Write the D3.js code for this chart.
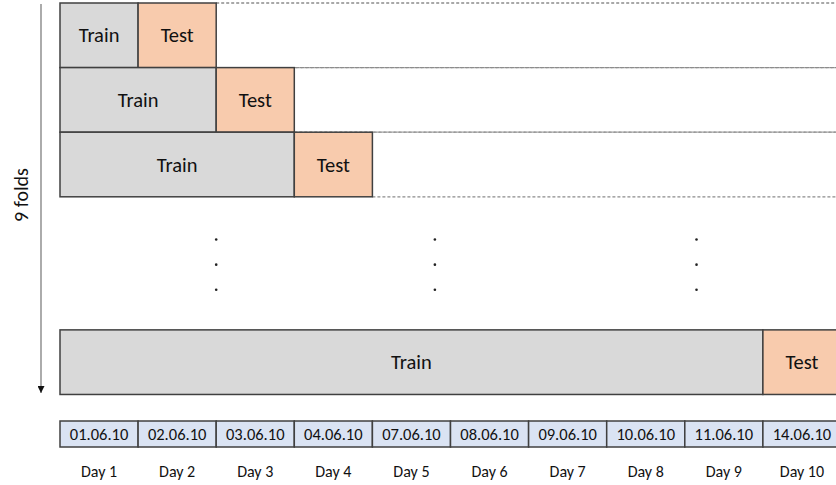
<!DOCTYPE html>
<html>
<head>
<meta charset="utf-8">
<script src="https://cdn.jsdelivr.net/npm/d3@7"></script>
<style>
  body { margin: 0; background: #fff; }
  svg { display: block; font-family: Carlito, Lato, "Open Sans", sans-serif; }
</style>
</head>
<body>
<div id="chart"></div>
<script>
// folds shown and their row slot (gap between row 3 and the last one holds the dots)
const folds = [1, 2, 3, 9];
const foldRows = [0, 1, 2, 5.06];
const dates = ["01.06.10", "02.06.10", "03.06.10", "04.06.10", "07.06.10",
  "08.06.10", "09.06.10", "10.06.10", "11.06.10", "14.06.10"];
const dayLabels = ["Day 1", "Day 2", "Day 3", "Day 4", "Day 5",
  "Day 6", "Day 7", "Day 8", "Day 9", "Day 10"];
const dotCols = [2, 4.8, 8.15];
const dotRows = [3.66, 4.05, 4.44];
const nDays = 10;

const width = 836, height = 485;

const svg = d3.select("#chart")
  .append("svg")
  .attr("width", width)
  .attr("height", height);

const x = d3.scaleLinear().domain([0, nDays]).range([60, 841]);
const y = d3.scaleLinear().domain([0, 1]).range([3, 67.6]);
const rowH = y(1) - y(0);

const stroke = "#404040";
const ink = "#111";

// dashed guide lines to the right of each test block
const rows = folds.map((f, i) => ({ fold: f, row: foldRows[i] }));
svg.selectAll(".guide")
  .data(rows.slice(0, 3))
  .enter()
  .append("g")
  .each(function(d) {
    const g = d3.select(this);
    [d.row, d.row + 1].forEach(r => {
      g.append("line")
        .attr("x1", x(d.fold + 1))
        .attr("x2", width)
        .attr("y1", y(r))
        .attr("y2", y(r))
        .attr("stroke", "#8c8c8c")
        .attr("stroke-width", 1.3)
        .attr("stroke-dasharray", "3,2");
    });
  });

// fold rows
const fg = svg.selectAll(".fold")
  .data(rows)
  .enter()
  .append("g")
  .attr("class", "fold");

fg.append("rect")
  .attr("x", x(0))
  .attr("y", d => y(d.row))
  .attr("width", d => x(d.fold) - x(0))
  .attr("height", rowH)
  .attr("fill", "#d9d9d9")
  .attr("stroke", stroke)
  .attr("stroke-width", 1.5);

fg.append("rect")
  .attr("x", d => x(d.fold))
  .attr("y", d => y(d.row))
  .attr("width", x(1) - x(0))
  .attr("height", rowH)
  .attr("fill", "#f8cbad")
  .attr("stroke", stroke)
  .attr("stroke-width", 1.5);

fg.append("text")
  .attr("x", d => (x(0) + x(d.fold)) / 2)
  .attr("y", d => y(d.row + 0.5))
  .attr("dy", "0.35em")
  .attr("text-anchor", "middle")
  .attr("font-size", 20.5)
  .attr("fill", ink)
  .text("Train");

fg.append("text")
  .attr("x", d => x(d.fold + 0.5))
  .attr("y", d => y(d.row + 0.5))
  .attr("dy", "0.35em")
  .attr("text-anchor", "middle")
  .attr("font-size", 20.5)
  .attr("fill", ink)
  .text("Test");

// ellipsis dots
dotCols.forEach(c => {
  svg.selectAll(null)
    .data(dotRows)
    .enter()
    .append("circle")
    .attr("cx", x(c))
    .attr("cy", d => y(d))
    .attr("r", 1.3)
    .attr("fill", "#222");
});

// date strip
const dg = svg.selectAll(".date")
  .data(dates)
  .enter()
  .append("g")
  .attr("class", "date");

dg.append("rect")
  .attr("x", (d, i) => x(i))
  .attr("y", 421)
  .attr("width", x(1) - x(0))
  .attr("height", 26)
  .attr("fill", "#dae3f3")
  .attr("stroke", stroke)
  .attr("stroke-width", 1.5);

dg.append("text")
  .attr("x", (d, i) => x(i + 0.5))
  .attr("y", 434)
  .attr("dy", "0.35em")
  .attr("text-anchor", "middle")
  .attr("font-size", 16.5)
  .attr("fill", ink)
  .text(d => d);

svg.selectAll(".day")
  .data(dayLabels)
  .enter()
  .append("text")
  .attr("x", (d, i) => x(i + 0.5))
  .attr("y", 471)
  .attr("dy", "0.35em")
  .attr("text-anchor", "middle")
  .attr("font-size", 16)
  .attr("fill", ink)
  .text(d => d);

// folds arrow
svg.append("defs")
  .append("marker")
  .attr("id", "arrow")
  .attr("viewBox", "0 0 10 10")
  .attr("refX", 10)
  .attr("refY", 5)
  .attr("markerWidth", 7)
  .attr("markerHeight", 7)
  .attr("markerUnits", "userSpaceOnUse")
  .attr("orient", "auto")
  .append("path")
  .attr("d", "M0,0L10,5L0,10Z")
  .attr("fill", "#111");

svg.append("line")
  .attr("x1", 41)
  .attr("x2", 41)
  .attr("y1", 4)
  .attr("y2", 393)
  .attr("stroke", "#7f7f7f")
  .attr("stroke-width", 1.3)
  .attr("marker-end", "url(#arrow)");

svg.append("text")
  .attr("transform", "translate(21,195) rotate(-90)")
  .attr("dy", "0.35em")
  .attr("text-anchor", "middle")
  .attr("font-size", 20)
  .attr("fill", ink)
  .text("9 folds");
</script>
</body>
</html>
